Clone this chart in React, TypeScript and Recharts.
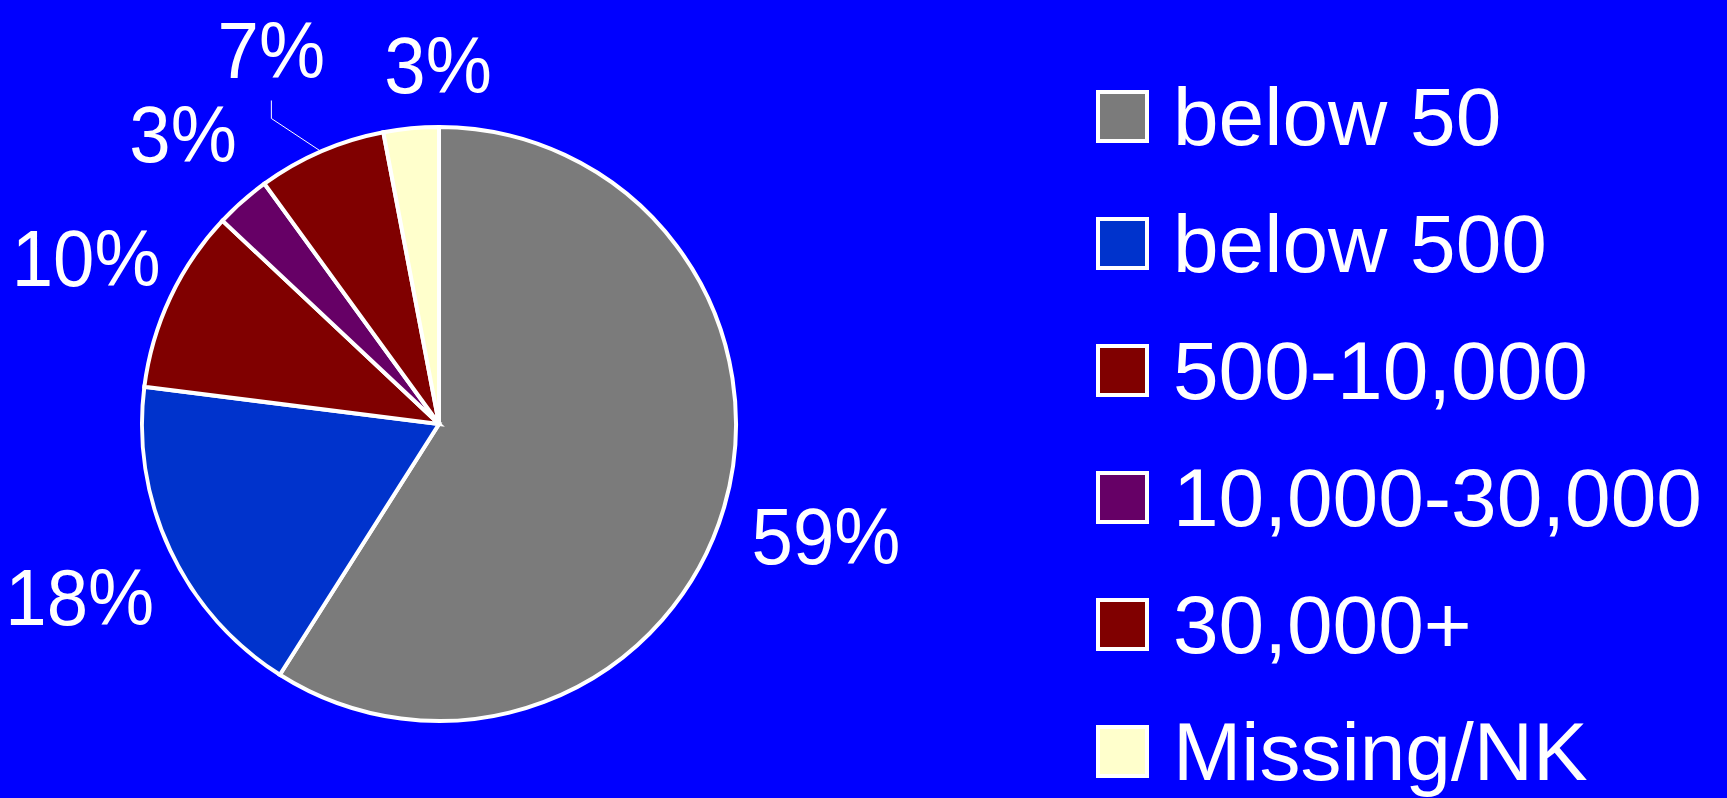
import { PieChart, Pie, Cell, Legend } from "recharts";

const categories = ["below 50", "below 500", "500-10,000", "10,000-30,000", "30,000+", "Missing/NK"];
const shares = [59, 18, 10, 3, 7, 3];
const colors = ["#7b7b7b", "#0033cc", "#800000", "#660066", "#800000", "#ffffcc"];

const data = categories.map((name, i) => ({ name, value: shares[i] }));

const FONT = "'Liberation Sans', Arial, Helvetica, sans-serif";

// label tweaks (radius beyond the pie edge, extra nudge) – labels were hand-placed in the original
const labelGap = [104, 100, 93, 90, 110, 64];
const labelNudge: [number, number][] = [[2, 0], [0, 4], [0, 0], [0, 0], [-6, 0], [33, 0]];

const RAD = Math.PI / 180;

function renderLabel(props: any) {
  const { cx, cy, midAngle, outerRadius, index, percent } = props;
  const r = outerRadius + labelGap[index];
  const x = cx + r * Math.cos(-midAngle * RAD) + labelNudge[index][0];
  const y = cy + r * Math.sin(-midAngle * RAD) + labelNudge[index][1];
  const txt = `${Math.round(percent * 100)}%`;
  let line = null;
  if (index === 4) {
    const ex = cx + outerRadius * Math.cos(-midAngle * RAD);
    const ey = cy + outerRadius * Math.sin(-midAngle * RAD);
    line = (
      <polyline
        points={`${ex},${ey} ${x},${y + 68} ${x},${y + 50}`}
        fill="none"
        stroke="#ffffff"
        strokeWidth={1}
      />
    );
  }
  return (
    <g key={`lbl-${index}`}>
      {line}
      <text
        transform={`translate(${x},${y}) scale(0.93,1)`}
        x={0}
        y={0}
        fill="#ffffff"
        fontFamily={FONT}
        fontSize={80}
        textAnchor="middle"
        dominantBaseline="central"
      >
        {txt}
      </text>
    </g>
  );
}

function renderLegend() {
  return (
    <div style={{ fontFamily: FONT, color: "#fff" }}>
      {categories.map((c, i) => (
        <div key={c} style={{ display: "flex", alignItems: "center", height: 127 }}>
          <div
            style={{
              width: 45,
              height: 45,
              background: colors[i],
              border: "4px solid #fff",
              marginRight: 24,
            }}
          />
          <span style={{ fontSize: 82, lineHeight: "82px", whiteSpace: "nowrap" }}>{c}</span>
        </div>
      ))}
    </div>
  );
}

export default function App() {
  return (
    <div style={{ position: "fixed", left: 0, top: 0, width: 1727, height: 798, background: "#0000ff" }}>
      <PieChart width={1727} height={798} margin={{ top: 0, right: 0, bottom: 0, left: 0 }}>
        <Pie
          data={data}
          dataKey="value"
          nameKey="name"
          cx={439}
          cy={424}
          outerRadius={297}
          startAngle={90}
          endAngle={-270}
          stroke="#ffffff"
          strokeWidth={4}
          label={renderLabel}
          labelLine={false}
          isAnimationActive={false}
        >
          {data.map((d, i) => (
            <Cell key={d.name} fill={colors[i]} />
          ))}
        </Pie>
        <Legend
          content={renderLegend}
          layout="vertical"
          wrapperStyle={{ position: "absolute", left: 1096, top: 53, width: 631 }}
        />
      </PieChart>
    </div>
  );
}
